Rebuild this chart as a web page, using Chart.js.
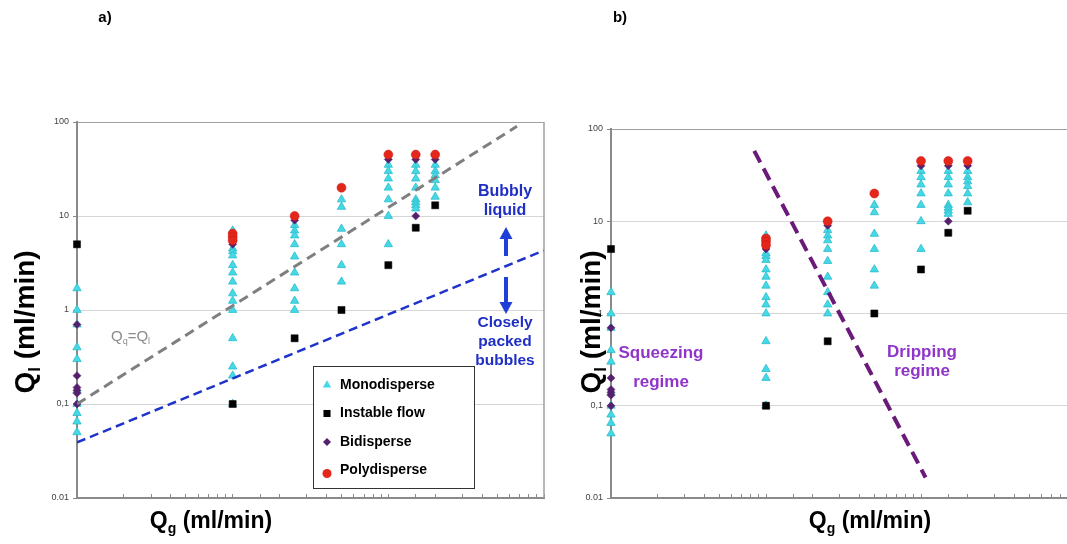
<!DOCTYPE html>
<html>
<head>
<meta charset="utf-8">
<script src="https://cdn.jsdelivr.net/npm/chart.js@4.4.1/dist/chart.umd.min.js"></script>
<style>
  html, body { margin: 0; padding: 0; background: #fff; overflow: hidden; }
  #wrap { position: relative; width: 1067px; height: 544px; overflow: hidden; }
  #chartA { position: absolute; left: 0; top: 0; }
  #chartB { position: absolute; left: 540px; top: 0; }
</style>
</head>
<body>
<div id="wrap">
  <canvas id="chartA" width="560" height="544"></canvas>
  <canvas id="chartB" width="560" height="544"></canvas>
</div>
<script>
// gas flow rates of the measured columns (ml/min)
const qgColumns = [0.1, 1, 2.5, 5, 10, 15, 20];

// liquid flow rates per column, one list per regime
const monoQl = [
  [1.7, 1, 0.7, 0.4, 0.3, 0.14, 0.1, 0.08, 0.065, 0.05],
  [7, 4.5, 4.2, 3.8, 3, 2.5, 2, 1.5, 1.25, 1, 0.5, 0.25, 0.2, 0.1],
  [8, 7, 6.2, 5, 3.7, 2.5, 1.7, 1.25, 1],
  [15, 12.5, 7.3, 5, 3, 2],
  [35, 30, 25, 20, 15, 10, 5],
  [35, 30, 25, 20, 15, 14, 13, 12],
  [35, 30, 27, 24, 20, 16]
];
const instableQl = [[5], [0.1], [0.5], [1], [3], [7.5], [13]];
const biQl = [[0.7, 0.2, 0.15, 0.14, 0.13, 0.1], [5], [9], [], [40], [40, 10], [40]];
const polyQl = [[], [6.5, 6, 5.5], [10], [20], [45], [45], [45]];

// guide lines
const eqLineQg = [0.1, 67];
const eqLineQl = [0.1, 90];
const packLineQg = [0.1, 100];
const packLineQl = [0.039, 4.3];
const regimeLineQg = [0.84, 10.7];
const regimeLineQl = [58, 0.0167];

const yTicks = [0.01, 0.1, 1, 10, 100];
const yTickLabels = ["0.01", "0,1", "1", "10", "100"];

const FONT = '"Liberation Sans", Arial, sans-serif';

function columnPoints(cols) {
  return cols.flatMap((vals, i) => vals.map((v) => ({ x: qgColumns[i], y: v })));
}

function linePoints(xs, ys) {
  return xs.map((x, i) => ({ x, y: ys[i] }));
}

function pointSets() {
  return [
    { label: "Polydisperse", data: columnPoints(polyQl), pointStyle: "circle", pointRadius: 4.5,
      backgroundColor: "#e4261b", borderColor: "#c81a10", borderWidth: 0.5, order: 1, clip: false },
    { label: "Bidisperse", data: columnPoints(biQl), pointStyle: "rectRot", pointRadius: 4,
      backgroundColor: "#55206f", borderColor: "#55206f", borderWidth: 0.5, order: 2, clip: false },
    { label: "Instable flow", data: columnPoints(instableQl), pointStyle: "rect", pointRadius: 5,
      backgroundColor: "#000", borderColor: "#000", borderWidth: 0.5, order: 3, clip: false },
    { label: "Monodisperse", data: columnPoints(monoQl), pointStyle: "triangle", pointRadius: 4.8,
      backgroundColor: "#45d8e6", borderColor: "#2cbccc", borderWidth: 0.8, order: 4, clip: false },
  ];
}

function dashed(xs, ys, color, width, dash) {
  return {
    label: "", data: linePoints(xs, ys), showLine: true, pointRadius: 0,
    borderColor: color, borderWidth: width, borderDash: dash, fill: false, order: 0,
  };
}

function makeScales() {
  return {
    x: {
      type: "logarithmic", min: 0.1, max: 100, position: "bottom",
      border: { color: "#8a8a8a", width: 2 },
      grid: { drawOnChartArea: false, drawTicks: true, tickLength: -4, color: "#8a8a8a" },
      ticks: { autoSkip: false, padding: 0, callback: () => "" },
      afterFit(s) { s.height = 46; },
    },
    y: {
      type: "logarithmic", min: 0.01, max: 100,
      border: { color: "#8a8a8a", width: 2 },
      grid: {
        color: (c) => (c.tick && c.tick.value === 100 ? "#a0a0a0" : "#d6d6d6"),
        tickLength: 4, tickColor: "#8a8a8a",
      },
      ticks: {
        font: { size: 9, family: FONT }, color: "#444", padding: 4,
        callback: (v) => yTickLabels[yTicks.indexOf(v)] ?? "",
      },
      afterBuildTicks(s) { s.ticks = yTicks.map((v) => ({ value: v })); },
      afterFit(s) { s.width = 40; },
    },
  };
}

// text with subscripts: parts = [[text, isSub], ...]
function drawRich(ctx, parts, x, y, size, weight, color, align) {
  ctx.save();
  ctx.fillStyle = color;
  ctx.textBaseline = "middle";
  ctx.textAlign = "left";
  const widths = parts.map(([t, sub]) => {
    ctx.font = `${weight} ${sub ? Math.round(size * 0.62) : size}px ${FONT}`;
    return ctx.measureText(t).width;
  });
  const total = widths.reduce((a, b) => a + b, 0);
  let cx = align === "center" ? x - total / 2 : x;
  parts.forEach(([t, sub], i) => {
    ctx.font = `${weight} ${sub ? Math.round(size * 0.62) : size}px ${FONT}`;
    ctx.fillText(t, cx, sub ? y + size * 0.32 : y);
    cx += widths[i];
  });
  ctx.restore();
}

function drawLines(ctx, lines, x, y, step, size, color) {
  ctx.save();
  ctx.font = `bold ${size}px ${FONT}`;
  ctx.fillStyle = color;
  ctx.textAlign = "center";
  ctx.textBaseline = "middle";
  lines.forEach((t, i) => ctx.fillText(t, x, y + i * step));
  ctx.restore();
}

function arrow(ctx, x, yFrom, yTo, color) {
  const dir = yTo > yFrom ? 1 : -1;
  const head = 12;
  ctx.save();
  ctx.strokeStyle = color;
  ctx.fillStyle = color;
  ctx.lineWidth = 4;
  ctx.beginPath();
  ctx.moveTo(x, yFrom);
  ctx.lineTo(x, yTo - dir * head);
  ctx.stroke();
  ctx.beginPath();
  ctx.moveTo(x, yTo);
  ctx.lineTo(x - 6.5, yTo - dir * head);
  ctx.lineTo(x + 6.5, yTo - dir * head);
  ctx.closePath();
  ctx.fill();
  ctx.restore();
}

function axisTitles(ctx, yCenter, xCenter) {
  drawRich(ctx, [["Q", false], ["g", true], [" (ml/min)", false]], xCenter, 522, 23, "bold", "#000", "center");
  ctx.save();
  ctx.translate(yCenter[0], yCenter[1]);
  ctx.rotate(-Math.PI / 2);
  drawRich(ctx, [["Q", false], ["l", true], [" (ml/min)", false]], 0, 0, 28, "bold", "#000", "center");
  ctx.restore();
}

const legendOrder = ["Monodisperse", "Instable flow", "Bidisperse", "Polydisperse"];

const decoA = {
  id: "decoA",
  afterDraw(chart) {
    const ctx = chart.ctx;
    const area = chart.chartArea;
    // frame on the right
    ctx.save();
    ctx.strokeStyle = "#a0a0a0";
    ctx.lineWidth = 1.5;
    ctx.beginPath();
    ctx.moveTo(area.right, area.top);
    ctx.lineTo(area.right, area.bottom);
    ctx.stroke();
    ctx.restore();

    drawLines(ctx, ["a)"], 105, 18, 0, 15, "#000");
    axisTitles(ctx, [26, 322], 211);

    drawRich(ctx, [["Q", false], ["q", true], ["=Q", false], ["l", true]], 111, 337, 15, "normal", "#8c8c8c", "left");

    const blue = "#1f2fc4";
    drawLines(ctx, ["Bubbly", "liquid"], 505, 192, 19, 16, blue);
    drawLines(ctx, ["Closely", "packed", "bubbles"], 505, 323, 19, 15.5, blue);
    arrow(ctx, 506, 256, 227, "#1f3fd8");
    arrow(ctx, 506, 277, 314, "#1f3fd8");

    // legend
    ctx.save();
    ctx.fillStyle = "#fff";
    ctx.strokeStyle = "#333";
    ctx.lineWidth = 1;
    ctx.fillRect(313.5, 366.5, 161, 122);
    ctx.strokeRect(313.5, 366.5, 161, 122);
    legendOrder.forEach((name, i) => {
      const ds = chart.data.datasets.find((d) => d.label === name);
      const y = 385 + i * 28.5;
      ctx.fillStyle = ds.backgroundColor;
      ctx.strokeStyle = ds.borderColor;
      Chart.helpers.drawPoint(ctx, {
        pointStyle: ds.pointStyle, radius: ds.pointRadius, rotation: 0, borderWidth: 0,
      }, 327, y + (i === 3 ? 3 : 0));
      ctx.fillStyle = "#000";
      ctx.font = `bold 14px ${FONT}`;
      ctx.textBaseline = "middle";
      ctx.textAlign = "left";
      ctx.fillText(name, 340, y);
    });
    ctx.restore();
  },
};

const decoB = {
  id: "decoB",
  afterDraw(chart) {
    const ctx = chart.ctx;
    drawLines(ctx, ["b)"], 80, 18, 0, 15, "#000");
    axisTitles(ctx, [52, 322], 330);
    const violet = "#9035c8";
    drawLines(ctx, ["Squeezing", "regime"], 121, 353, 29, 17, violet);
    drawLines(ctx, ["Dripping", "regime"], 382, 352, 19, 17, violet);
  },
};

function baseOptions(padding) {
  return {
    responsive: false,
    animation: false,
    layout: { padding },
    plugins: { legend: { display: false }, tooltip: { enabled: false } },
    scales: makeScales(),
  };
}

new Chart(document.getElementById("chartA"), {
  type: "scatter",
  data: {
    datasets: [
      dashed(eqLineQg, eqLineQl, "#7f7f7f", 3, [10, 6]),
      dashed(packLineQg, packLineQl, "#1f33cc", 2.5, [9, 5]),
      ...pointSets(),
    ],
  },
  options: baseOptions({ left: 37, top: 122, right: 16, bottom: 0 }),
  plugins: [decoA],
});

new Chart(document.getElementById("chartB"), {
  type: "scatter",
  data: {
    datasets: [
      dashed(regimeLineQg, regimeLineQl, "#6a1a78", 4, [13, 7]),
      ...pointSets(),
    ],
  },
  options: baseOptions({ left: 31, top: 129, right: 24, bottom: 0 }),
  plugins: [decoB],
});
</script>
</body>
</html>
